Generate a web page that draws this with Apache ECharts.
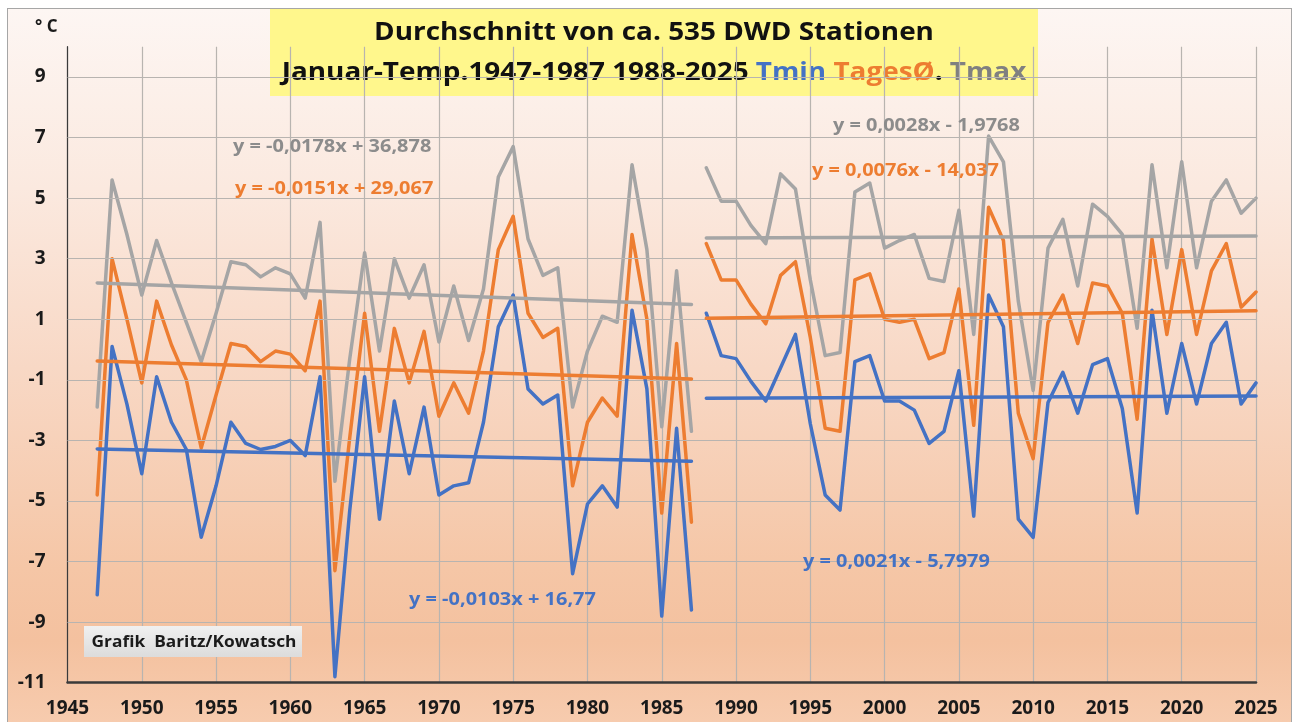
<!DOCTYPE html>
<html><head><meta charset="utf-8">
<script src="https://cdn.jsdelivr.net/npm/echarts@6/dist/echarts.min.js"></script>
<style>
html,body{margin:0;padding:0;background:#fff;width:1293px;height:722px;overflow:hidden}
#frame{position:absolute;left:7px;top:8px;width:1285px;height:720px;box-sizing:border-box;border:1px solid #a6a6a6;
background:linear-gradient(to bottom,#FDF6F3 0%,#FBE9DF 25%,#F8D8C5 50%,#F5C6A6 78%,#F4C19F 88%,#F7CCAF 100%)}
#chart{position:absolute;left:0;top:0;width:1293px;height:722px}
</style></head><body><div id="frame"></div><div id="chart"></div>
<script>
// ---- data ----
const years1 = [1947,1948,1949,1950,1951,1952,1953,1954,1955,1956,1957,1958,1959,1960,1961,1962,1963,1964,1965,1966,1967,1968,1969,1970,1971,1972,1973,1974,1975,1976,1977,1978,1979,1980,1981,1982,1983,1984,1985,1986,1987];
const tmin1  = [-8.1,0.1,-1.8,-4.1,-0.9,-2.4,-3.3,-6.2,-4.5,-2.4,-3.1,-3.3,-3.2,-3.0,-3.5,-0.9,-10.8,-5.3,-0.9,-5.6,-1.7,-4.1,-1.9,-4.8,-4.5,-4.4,-2.4,0.75,1.8,-1.3,-1.8,-1.5,-7.4,-5.1,-4.5,-5.2,1.3,-1.3,-8.8,-2.6,-8.6];
const tages1 = [-4.8,3.0,1.0,-1.1,1.6,0.15,-1.0,-3.25,-1.5,0.2,0.1,-0.4,-0.05,-0.15,-0.7,1.6,-7.3,-2.9,1.2,-2.7,0.7,-1.1,0.6,-2.2,-1.1,-2.1,-0.05,3.3,4.4,1.2,0.4,0.7,-4.5,-2.4,-1.6,-2.2,3.8,1.0,-5.4,0.2,-5.7];
const tmax1  = [-1.9,5.6,3.8,1.8,3.6,2.2,0.9,-0.4,1.2,2.9,2.8,2.4,2.7,2.5,1.7,4.2,-4.35,-0.3,3.2,-0.05,3.0,1.7,2.8,0.25,2.1,0.3,2.0,5.7,6.7,3.65,2.45,2.7,-1.9,-0.05,1.1,0.9,6.1,3.3,-2.55,2.6,-2.7];

const years2 = [1988,1989,1990,1991,1992,1993,1994,1995,1996,1997,1998,1999,2000,2001,2002,2003,2004,2005,2006,2007,2008,2009,2010,2011,2012,2013,2014,2015,2016,2017,2018,2019,2020,2021,2022,2023,2024,2025];
const tmin2  = [1.2,-0.2,-0.3,-1.05,-1.7,-0.6,0.5,-2.45,-4.8,-5.3,-0.4,-0.2,-1.7,-1.7,-2.0,-3.1,-2.7,-0.7,-5.5,1.8,0.75,-5.6,-6.2,-1.75,-0.75,-2.1,-0.5,-0.3,-1.95,-5.4,1.3,-2.1,0.2,-1.8,0.2,0.9,-1.8,-1.1];
const tages2 = [3.5,2.3,2.3,1.5,0.85,2.45,2.9,0.4,-2.6,-2.7,2.3,2.5,1.0,0.9,1.0,-0.3,-0.1,2.0,-2.5,4.7,3.6,-2.1,-3.6,0.9,1.8,0.2,2.2,2.1,1.2,-2.3,3.65,0.5,3.3,0.5,2.6,3.5,1.4,1.9];
const tmax2  = [6.0,4.9,4.9,4.1,3.5,5.8,5.3,2.3,-0.2,-0.1,5.2,5.5,3.35,3.6,3.8,2.35,2.25,4.6,0.5,7.05,6.2,1.6,-1.35,3.35,4.3,2.1,4.8,4.4,3.8,0.7,6.1,2.7,6.2,2.7,4.9,5.6,4.5,5.0];

// trend line end points (from the chart's regression lines)
const trendYears1 = [1947,1987];
const trendTmin1  = [-3.28,-3.69];
const trendTages1 = [-0.38,-0.97];
const trendTmax1  = [2.20,1.49];
const trendYears2 = [1988,2025];
const trendTmin2  = [-1.61,-1.53];
const trendTages2 = [1.03,1.28];
const trendTmax2  = [3.68,3.75];

const yGridTicks = [-9,-7,-5,-3,-1,1,3,5,7,9];

const eqTexts = {
  tmaxL: 'y = -0,0178x + 36,878', tagesL: 'y = -0,0151x + 29,067', tminL: 'y = -0,0103x + 16,77',
  tmaxR: 'y = 0,0028x - 1,9768',  tagesR: 'y = 0,0076x - 14,037',  tminR: 'y = 0,0021x - 5,7979'
};
const titleLine1 = 'Durchschnitt von ca. 535 DWD Stationen';
const credit = 'Grafik  Baritz/Kowatsch';

// ---- styles ----
const BLUE = '#4472C4', ORANGE = '#ED7D31', GREY = '#A5A5A5', GREYTXT = '#8C8C8C';
const FONT = 'Open Sans';
const zip = (xs, ys) => xs.map((x, i) => [x, ys[i]]);
const lineSeries = (name, xs, ys, color, z) => ({
  name, type: 'line', data: zip(xs, ys), symbol: 'none', z: z, silent: true,
  lineStyle: { color, width: 3.5, cap: 'round', join: 'round' }, animation: false
});
const txt = (s, color, size, extra) => Object.assign({ text: s, fontFamily: FONT, fontWeight: 'bold', fontSize: size, fill: color, verticalAlign: 'middle' }, extra || {});
const EQ_SX = 1.14, TITLE_SX = 1.115;

const chart = echarts.init(document.getElementById('chart'), null, { renderer: 'canvas' });
chart.setOption({
  animation: false,
  backgroundColor: 'transparent',
  grid: { left: 67.5, top: 46.7, right: 37, bottom: 39.3, containLabel: false },
  xAxis: {
    type: 'value', min: 1945, max: 2025, interval: 5,
    axisLine: { show: true, onZero: false, lineStyle: { color: '#3a3a3a', width: 2.5 } },
    axisTick: { show: false },
    splitLine: { show: true, lineStyle: { color: '#b8b4b0', width: 1.2 } },
    axisLabel: { formatter: v => String(v), fontFamily: FONT, fontWeight: 'bold', fontSize: 19, color: '#1a1a1a', margin: 16 }
  },
  yAxis: {
    type: 'value', min: -11, max: 10, interval: 2,
    axisLine: { show: true, onZero: false, lineStyle: { color: '#3a3a3a', width: 1.2 } },
    axisTick: { show: false },
    splitLine: { show: false },
    axisLabel: { showMaxLabel: false, formatter: v => String(v), fontFamily: FONT, fontWeight: 'bold', fontSize: 19, color: '#1a1a1a', margin: 22 }
  },
  series: [
    { type: 'line', data: [[1945, -11]], symbol: 'none', z: 1, silent: true, lineStyle: { opacity: 0 },
      markLine: { silent: true, symbol: ['none', 'none'], label: { show: false }, animation: false,
        lineStyle: { color: '#b8b4b0', width: 1.2, type: 'solid' },
        data: yGridTicks.map(v => ({ yAxis: v })) } },
    lineSeries('Tmax', years1, tmax1, GREY, 3),
    lineSeries('Tmax', years2, tmax2, GREY, 3),
    lineSeries('TagesØ', years1, tages1, ORANGE, 4),
    lineSeries('TagesØ', years2, tages2, ORANGE, 4),
    lineSeries('Tmin', years1, tmin1, BLUE, 5),
    lineSeries('Tmin', years2, tmin2, BLUE, 5),
    lineSeries('Trend Tmax', trendYears1, trendTmax1, GREY, 6),
    lineSeries('Trend Tmax', trendYears2, trendTmax2, GREY, 6),
    lineSeries('Trend TagesØ', trendYears1, trendTages1, ORANGE, 6),
    lineSeries('Trend TagesØ', trendYears2, trendTages2, ORANGE, 6),
    lineSeries('Trend Tmin', trendYears1, trendTmin1, BLUE, 6),
    lineSeries('Trend Tmin', trendYears2, trendTmin2, BLUE, 6)
  ],
  graphic: [
    { type: 'rect', z: -5, silent: true, shape: { x: 270, y: 9, width: 768, height: 87 }, style: { fill: '#FFF78C' } },
    { type: 'text', z: -4, silent: true, x: 654, y: 33, scaleX: TITLE_SX, style: txt(titleLine1, '#111', 25, { align: 'center' }) },
    { type: 'text', z: -4, silent: true, x: 654, y: 73, scaleX: TITLE_SX,
      style: { text: '{k|Januar-Temp.1947-1987 1988-2025 }{b|Tmin }{o|TagesØ}{k|. }{g|Tmax}',
        align: 'center', verticalAlign: 'middle',
        rich: {
          k: { fontFamily: FONT, fontWeight: 'bold', fontSize: 25, fill: '#111', color: '#111' },
          b: { fontFamily: FONT, fontWeight: 'bold', fontSize: 25, fill: BLUE, color: BLUE },
          o: { fontFamily: FONT, fontWeight: 'bold', fontSize: 25, fill: ORANGE, color: ORANGE },
          g: { fontFamily: FONT, fontWeight: 'bold', fontSize: 25, fill: '#808080', color: '#808080' }
        } } },
    { type: 'text', silent: true, x: 35, y: 27, style: txt('° C', '#1a1a1a', 17) },
    { type: 'text', z: 10, silent: true, x: 233, y: 147, scaleX: EQ_SX, style: txt(eqTexts.tmaxL, GREYTXT, 17.5) },
    { type: 'text', z: 10, silent: true, x: 235, y: 189, scaleX: EQ_SX, style: txt(eqTexts.tagesL, ORANGE, 17.5) },
    { type: 'text', z: 10, silent: true, x: 409, y: 600, scaleX: EQ_SX, style: txt(eqTexts.tminL, BLUE, 17.5) },
    { type: 'text', z: 10, silent: true, x: 833, y: 126, scaleX: EQ_SX, style: txt(eqTexts.tmaxR, GREYTXT, 17.5) },
    { type: 'text', z: 10, silent: true, x: 812, y: 171, scaleX: EQ_SX, style: txt(eqTexts.tagesR, ORANGE, 17.5) },
    { type: 'text', z: 10, silent: true, x: 803, y: 562, scaleX: EQ_SX, style: txt(eqTexts.tminR, BLUE, 17.5) },
    { type: 'rect', z: 10, silent: true, shape: { x: 84, y: 626, width: 218, height: 31 },
      style: { fill: new echarts.graphic.LinearGradient(0, 0, 0, 1, [{ offset: 0, color: '#F0F0F0' }, { offset: 1, color: '#DCDCDC' }]) } },
    { type: 'text', z: 11, silent: true, x: 194, y: 642, scaleX: 1.05, style: txt(credit, '#1a1a1a', 16.5, { align: 'center' }) }
  ]
});
</script></body></html>
